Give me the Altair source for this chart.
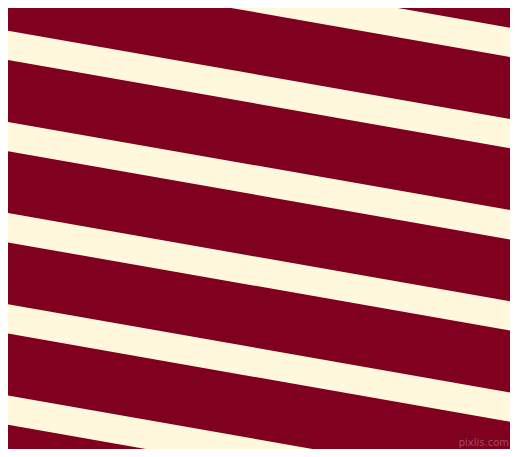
import altair as alt
import pandas as pd

# Stripe geometry (window pixel coordinates)
stripe_ids = [0, 1, 2, 3, 4, 5, 6]
top_at_left = [-61.9, 29.3, 120.5, 211.7, 302.9, 394.1, 485.3]   # top edge at x = 0
top_at_right = [29.1, 120.3, 211.5, 302.7, 393.9, 485.1, 576.3]  # top edge at x = 518
stripe_thickness = 29.3
edge_x = [0, 518]

watermark_text = ["pixlis.com"]
watermark_x = [509]
watermark_y = [443]

BG = "#800020"
STRIPE = "#FFF8DC"

rows = []
for sid, yl, yr in zip(stripe_ids, top_at_left, top_at_right):
    for x, yt in zip(edge_x, [yl, yr]):
        rows.append({"stripe": sid, "x": x, "y_top": yt, "y_bot": yt + stripe_thickness})
df = pd.DataFrame(rows)

wm = pd.DataFrame({"x": watermark_x, "y": watermark_y, "t": watermark_text})

xs = alt.Scale(domain=[8, 510], zero=False, nice=False)
ys = alt.Scale(domain=[8, 449], zero=False, nice=False, reverse=True)

stripes = alt.Chart(df).mark_area(color=STRIPE, clip=True, opacity=1).encode(
    x=alt.X("x:Q", scale=xs, axis=None),
    y=alt.Y("y_top:Q", scale=ys, axis=None),
    y2="y_bot:Q",
    detail="stripe:N",
)

text = alt.Chart(wm).mark_text(
    align="right", baseline="middle", fontSize=10, font="DejaVu Sans",
    color="#a54a60"
).encode(
    x=alt.X("x:Q", scale=xs, axis=None),
    y=alt.Y("y:Q", scale=ys, axis=None),
    text="t:N",
)

chart = alt.layer(stripes, text).properties(
    width=502, height=441, padding=0,
    autosize=alt.AutoSizeParams(type="none"),
    background=BG,
).configure_view(fill=BG, stroke=None)

chart.save("out.html", embed_options={"renderer": "svg", "actions": False})
